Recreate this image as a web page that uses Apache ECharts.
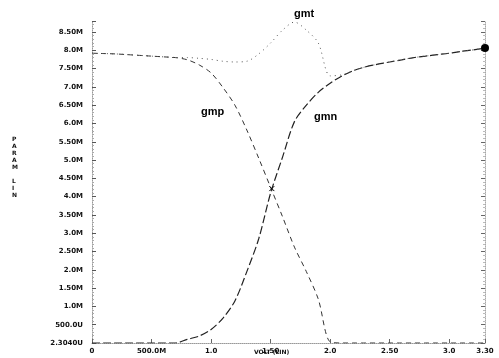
<!DOCTYPE html>
<html>
<head>
<meta charset="utf-8">
<script src="https://cdn.jsdelivr.net/npm/echarts@6/dist/echarts.min.js"></script>
<style>
  html, body { margin: 0; padding: 0; background: #fff; }
  #chart { width: 499px; height: 358px; }
</style>
</head>
<body>
<div id="chart"></div>
<script>
// sweep voltage (V)
const volts = [0, 0.1, 0.2, 0.3, 0.4, 0.5, 0.6, 0.7, 0.8, 0.9, 1.0, 1.1, 1.2, 1.3, 1.4, 1.5, 1.6,
  1.7, 1.8, 1.9, 2.0, 2.1, 2.2, 2.3, 2.4, 2.5, 2.6, 2.7, 2.8, 2.9, 3.0, 3.1, 3.2, 3.3]
// transconductance, in mA/V (axis is labelled in SI units)
const gmn = [0, 0, 0, 0, 0, 0, 0, 0, 0.1, 0.19, 0.37, 0.68, 1.15, 1.95, 2.85, 4.1, 5.08,
  6.05, 6.5, 6.85, 7.1, 7.3, 7.45, 7.55, 7.62, 7.68, 7.74, 7.8, 7.84, 7.88, 7.92, 7.97, 8.01, 8.06]
const gmp = [7.92, 7.91, 7.9, 7.88, 7.86, 7.84, 7.82, 7.8, 7.74, 7.6, 7.38, 6.98, 6.5, 5.82, 5.05,
  4.25, 3.45, 2.62, 1.95, 1.2, 0.03, 0, 0, 0, 0, 0, 0, 0, 0, 0, 0, 0, 0, 0]
const gmt = [7.92, 7.91, 7.9, 7.88, 7.86, 7.84, 7.82, 7.8, 7.8, 7.78, 7.75, 7.7, 7.68, 7.7, 7.9,
  8.2, 8.55, 8.77, 8.55, 8.2, 7.3, 7.33, 7.45, 7.55, 7.62, 7.68, 7.74, 7.8, 7.84, 7.88, 7.92, 7.97, 8.01, 8.06]

const xLabels = ['0', '500.0M', '1.0', '1.50', '2.0', '2.50', '3.0']
const xEndLabel = '3.30'
const yLabels = ['2.3040U', '500.0U', '1.0M', '1.50M', '2.0M', '2.50M', '3.0M', '3.50M', '4.0M',
  '4.50M', '5.0M', '5.50M', '6.0M', '6.50M', '7.0M', '7.50M', '8.0M', '8.50M']

const pairs = (ys) => volts.map((v, i) => [v, ys[i]])

const chart = echarts.init(document.getElementById('chart'))
const tickFont = { fontFamily: 'DejaVu Sans', fontSize: 7, fontWeight: 'bold', color: '#111' }

chart.setOption({
  animation: false,
  grid: { left: 92, right: 14, top: 21, bottom: 15 },
  xAxis: {
    type: 'value',
    min: 0,
    max: 3.3,
    interval: 0.5,
    axisLine: { lineStyle: { color: '#999', type: 'dotted' } },
    axisTick: { show: true, inside: true, length: 4, lineStyle: { color: '#666' } },
    splitLine: { show: false },
    axisLabel: {
      ...tickFont,
      margin: 5,
      showMaxLabel: true,
      formatter: (v) => {
        if (Math.abs(v - 3.3) < 1e-6) return xEndLabel
        const i = Math.round(v / 0.5)
        return xLabels[i] !== undefined ? xLabels[i] : ''
      }
    }
  },
  yAxis: [{
    type: 'value',
    min: 0,
    max: 8.8,
    interval: 0.5,
    axisLine: { show: true, lineStyle: { color: '#999', type: 'dotted' } },
    axisTick: { show: true, inside: true, length: 4, lineStyle: { color: '#555' } },
    minorTick: { show: true, splitNumber: 5, length: 2, lineStyle: { color: '#aaa' } },
    splitLine: { show: false },
    axisLabel: {
      ...tickFont,
      margin: 9,
      showMaxLabel: false,
      formatter: (v) => {
        const i = Math.round(v / 0.5)
        return yLabels[i] !== undefined ? yLabels[i] : ''
      }
    }
  }, {
    type: 'value',
    position: 'right',
    min: 0,
    max: 8.8,
    interval: 0.5,
    axisLine: { show: true, lineStyle: { color: '#aaa', type: 'dotted' } },
    axisTick: { show: true, inside: true, length: 4, lineStyle: { color: '#666' } },
    minorTick: { show: true, splitNumber: 5, length: 2, lineStyle: { color: '#bbb' } },
    splitLine: { show: false },
    axisLabel: { show: false }
  }],
  series: [{
    name: 'gmn',
    type: 'line',
    data: pairs(gmn),
    symbol: 'none',
    smooth: 0.3,
    lineStyle: { color: '#222', width: 1.2, type: [8, 3] },
    markPoint: {
      symbol: 'circle',
      symbolSize: 8,
      itemStyle: { color: '#000' },
      label: { show: false },
      data: [{ coord: [volts[volts.length - 1], gmn[gmn.length - 1]] }]
    }
  }, {
    name: 'gmp',
    type: 'line',
    data: pairs(gmp),
    symbol: 'none',
    smooth: 0.3,
    lineStyle: { color: '#333', width: 1, type: [5, 4] },
    markPoint: {
      symbol: 'path://M0,0L10,10M10,0L0,10',
      symbolSize: 5,
      itemStyle: { color: 'none', borderColor: '#000', borderWidth: 1 },
      label: { show: false },
      data: [{ coord: [1.51, 4.22] }]
    }
  }, {
    name: 'gmt',
    type: 'line',
    data: pairs(gmt),
    symbol: 'none',
    smooth: 0.3,
    lineStyle: { color: '#555', width: 1, type: [1, 4] }
  }],
  graphic: [
    { type: 'text', left: 294, top: 8, style: { text: 'gmt', font: 'bold 11px "Liberation Sans"', fill: '#000' } },
    { type: 'text', left: 201, top: 106, style: { text: 'gmp', font: 'bold 11px "Liberation Sans"', fill: '#000' } },
    { type: 'text', left: 314, top: 111, style: { text: 'gmn', font: 'bold 11px "Liberation Sans"', fill: '#000' } },
    { type: 'text', left: 254, top: 349, style: { text: 'VOLT (LIN)', font: 'bold 6px "DejaVu Sans"', fill: '#111' } },
    { type: 'text', left: 12, top: 136, style: { text: 'P\nA\nR\nA\nM\n\nL\nI\nN', font: 'bold 6px "DejaVu Sans"', lineHeight: 7, fill: '#111' } }
  ]
})
</script>
</body>
</html>
